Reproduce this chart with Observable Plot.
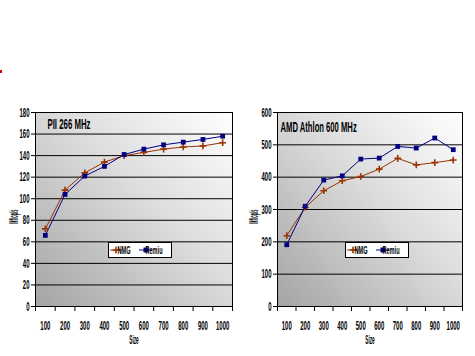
<!DOCTYPE html>
<html><head><meta charset="utf-8">
<script src="https://cdn.jsdelivr.net/npm/d3@7"></script>
<script src="https://cdn.jsdelivr.net/npm/@observablehq/plot@0.6"></script>
<style>
body{margin:0;background:#fff;}
#wrap{position:relative;width:475px;height:356px;overflow:hidden;}
.chart{position:absolute;top:0;}
#mark{position:absolute;left:0;top:70px;width:2px;height:3px;background:#d40000;}
</style></head><body><div id="wrap"><div id="mark"></div></div>
<script>
const sizes = ["100","200","300","400","500","600","700","800","900","1000"];
const seriesNames = ["NMG","Remiu"];
const seriesColors = ["#993300","#000080"];
const piiNMG   = [72, 108, 124, 134, 140, 143, 146, 148, 149, 152];
const piiRemiu = [66, 104, 121, 130, 141, 146, 150, 152.5, 155, 158];
const athNMG   = [219, 307, 358, 389, 402, 425, 458, 438, 445, 453];
const athRemiu = [191, 310, 391, 404, 456, 459, 495, 490, 521, 485];
const piiTicks = [0,20,40,60,80,100,120,140,160,180];
const athTicks = [0,100,200,300,400,500,600];
const yLabel = "Mflop/s";
const xLabel = "Size";

const FONT = "'Liberation Sans', Arial, sans-serif";

function squish(sel, k){
  sel.each(function(){
    const L = this.getComputedTextLength();
    if (L > 0){ this.setAttribute("textLength", L*k); this.setAttribute("lengthAdjust","spacingAndGlyphs"); }
  });
}

function makeChart({title, a, b, ticks, width, left, marginLeft, marginRight, gradId, legendX, titleDx, titleDy, titleK}){
  const rows = [];
  sizes.forEach((s,i)=>{ rows.push({i:i+1, series:seriesNames[0], v:a[i]}); });
  sizes.forEach((s,i)=>{ rows.push({i:i+1, series:seriesNames[1], v:b[i]}); });
  const yMax = ticks[ticks.length-1];
  const svg = Plot.plot({
    width, height: 356,
    marginTop: 112, marginBottom: 50, marginLeft, marginRight,
    style: {fontFamily: FONT, fontSize: "13px", fontWeight: "bold", color: "#000", background: "transparent", overflow: "visible"},
    x: {type: "linear", domain: [0.5, 10.5]},
    y: {domain: [0, yMax]},
    color: {domain: seriesNames, range: seriesColors},
    marks: [
      Plot.frame({fill: `url(#${gradId})`, stroke: null}),
      Plot.ruleY(ticks, {stroke: "#000", strokeWidth: 1}),
      Plot.frame({stroke: "#000", fill: "none"}),
      Plot.line(rows, {x: "i", y: "v", z: "series", stroke: "series", strokeWidth: 1}),
      Plot.dot(rows.filter(d=>d.series===seriesNames[0]), {x: "i", y: "v", symbol: "plus", r: 2.3, stroke: seriesColors[0], strokeWidth: 1.6}),
      Plot.dot(rows.filter(d=>d.series===seriesNames[1]), {x: "i", y: "v", symbol: "square", r: 2.7, fill: seriesColors[1], stroke: null}),
      Plot.axisY({ticks, tickSize: 4, tickPadding: 2, label: null, tickFormat: d=>String(d)}),
      Plot.axisX({ticks: d3.range(0.5, 10.6, 1), tickFormat: ()=>"", tickSize: 5, label: null}),
      Plot.axisX({ticks: d3.range(1, 11), tickFormat: i=>sizes[i-1], tickSize: 0, tickPadding: 14, label: null}),
      Plot.text([yLabel], {text: d=>d, frameAnchor: "left", dx: -(marginLeft - 14), dy: 7, rotate: -90, fontSize: 12, textAnchor: "middle", lineAnchor: "middle"}),
      Plot.text([xLabel], {text: d=>d, frameAnchor: "bottom", dy: 33, fontSize: 13, textAnchor: "middle", lineAnchor: "middle"}),
      Plot.text([title], {text: d=>d, frameAnchor: "top-left", dx: titleDx, dy: titleDy, fontSize: 15, textAnchor: "start", lineAnchor: "top"})
    ]
  });
  svg.classList.add("chart");
  svg.style.left = left + "px";
  document.getElementById("wrap").appendChild(svg);
  const s = d3.select(svg);
  const defs = s.insert("defs", ":first-child");
  const g = defs.append("linearGradient").attr("id", gradId).attr("x1",0).attr("y1",1).attr("x2",1).attr("y2",0);
  g.append("stop").attr("offset",0).attr("stop-color","#a4a4a4");
  g.append("stop").attr("offset",0.55).attr("stop-color","#dcdcdc");
  g.append("stop").attr("offset",1).attr("stop-color","#ffffff");

  // legend
  const lg = s.append("g").attr("transform", `translate(${legendX},242)`).attr("font-family", FONT).attr("font-size", 10).attr("font-weight","bold");
  lg.append("rect").attr("x",0.5).attr("y",0.5).attr("width",63).attr("height",15).attr("fill","#fff").attr("stroke","#000");
  lg.append("line").attr("x1",2).attr("x2",14).attr("y1",8).attr("y2",8).attr("stroke",seriesColors[0]);
  lg.append("path").attr("d", d3.symbol(d3.symbolPlus, 16)()).attr("transform","translate(8,8)").attr("stroke",seriesColors[0]).attr("stroke-width",1.6).attr("fill","none");
  lg.append("text").attr("class","lgt").attr("x",16).attr("y",12).text(seriesNames[0]);
  lg.append("line").attr("x1",31).attr("x2",44).attr("y1",8).attr("y2",8).attr("stroke",seriesColors[1]);
  lg.append("rect").attr("x",35.5).attr("y",5.5).attr("width",5).attr("height",5).attr("fill",seriesColors[1]);
  lg.append("text").attr("class","lgt").attr("x",46).attr("y",12).text(seriesNames[1]);

  squish(s.selectAll("g[aria-label='y-axis tick label'] text, g[aria-label='x-axis tick label'] text"), 0.46);
  const texts = s.selectAll("g[aria-label='text'] text").nodes();
  squish(d3.select(texts[0]), 0.34);
  squish(d3.select(texts[1]), 0.36);
  squish(d3.select(texts[2]), titleK);
  squish(s.selectAll("text.lgt"), 0.56);
}

makeChart({title: "PII 266 MHz", a: piiNMG, b: piiRemiu, ticks: piiTicks, width: 240, left: 0, marginLeft: 35, marginRight: 8, gradId: "gL", legendX: 108, titleDx: 12, titleDy: 6, titleK: 0.52});
makeChart({title: "AMD Athlon 600 MHz", a: athNMG, b: athRemiu, ticks: athTicks, width: 235, left: 240, marginLeft: 37, marginRight: 13, gradId: "gR", legendX: 105, titleDx: 3, titleDy: 9, titleK: 0.51});
</script></body></html>
